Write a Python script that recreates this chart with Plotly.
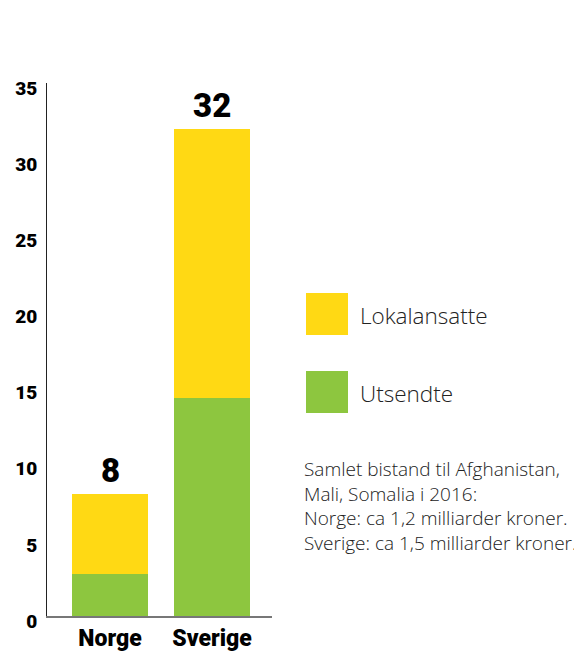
import plotly.graph_objects as go

categories = ["Norge", "Sverige"]
utsendte = [2.75, 14.3]
lokalansatte = [5.25, 17.7]
totals = [8, 32]
series_names = ["Lokalansatte", "Utsendte"]
note_lines = [
    "Samlet bistand til Afghanistan,",
    "Mali, Somalia i 2016:",
    "Norge: ca 1,2 milliarder kroner.",
    "Sverige: ca 1,5 milliarder kroner.",
]
tick_vals = [0, 5, 10, 15, 20, 25, 30, 35]

YELLOW = "#FFD914"
GREEN = "#8DC63F"
BOLD = dict(family="Roboto, Lato, sans-serif", color="#000", weight=900)
LIGHT = dict(family="Open Sans, Lato, sans-serif", color="#222", weight=300)

OFF = 8  # page body margin
W, H = 582 - OFF, 651 - OFF
L, R, T, B = 47 - OFF, 310, 83 - OFF, 35
pw, ph = W - L - R, H - T - B


def px_x(p):
    return (p - OFF - L) / pw


def px_y(p):
    return (H - B - (p - OFF)) / ph


fig = go.Figure()
fig.add_bar(x=categories, y=utsendte, name=series_names[1], marker_color=GREEN,
            marker_line_width=0, width=0.745, showlegend=False)
fig.add_bar(x=categories, y=lokalansatte, name=series_names[0], marker_color=YELLOW,
            marker_line_width=0, width=0.745, showlegend=False)

for c, t in zip(categories, totals):
    fig.add_annotation(x=c, y=t, text=str(t), showarrow=False, yanchor="bottom",
                       yshift=2, font=dict(size=33, **BOLD))

legend_items = [(series_names[0], YELLOW, 293), (series_names[1], GREEN, 371)]
for name, col, top in legend_items:
    fig.add_shape(type="rect", xref="paper", yref="paper",
                  x0=px_x(306), x1=px_x(348), y0=px_y(top + 42), y1=px_y(top),
                  fillcolor=col, line_width=0)
    fig.add_annotation(xref="paper", yref="paper", x=px_x(358), y=px_y(top + 22),
                       xanchor="left", yanchor="middle", text=name, showarrow=False,
                       font=dict(size=22.5, **LIGHT))

fig.add_annotation(xref="paper", yref="paper", x=px_x(302), y=px_y(454),
                   xanchor="left", yanchor="top", align="left", showarrow=False,
                   text="<br>".join(note_lines), font=dict(size=19, **LIGHT))

fig.update_layout(
    width=W, height=H, barmode="stack", bargap=0,
    margin=dict(l=L, r=R, t=T, b=B, pad=0, autoexpand=False),
    plot_bgcolor="white", paper_bgcolor="white",
)
fig.update_xaxes(type="category", range=[-0.618, 1.588], showgrid=False,
                 showline=True, linecolor="#777", linewidth=2, ticks="",
                 automargin=False,
                 tickfont=dict(size=23, **BOLD), ticklabelstandoff=0)
fig.update_yaxes(range=[0, 35], tickvals=tick_vals, showgrid=False, zeroline=False,
                 showline=True, linecolor="#222", linewidth=1, ticks="",
                 automargin=False,
                 tickfont=dict(size=19, **BOLD), ticklabelstandoff=5,
                 ticklabelshift=5)

fig.write_html("out.html")
